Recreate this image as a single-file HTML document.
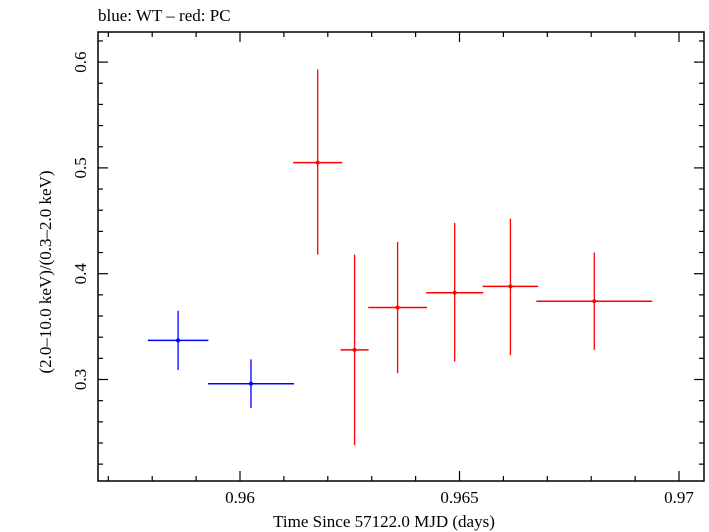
<!DOCTYPE html>
<html><head><meta charset="utf-8"><style>
html,body{margin:0;padding:0;background:#fff;}
svg{display:block;font-family:"Liberation Serif",serif;}
</style></head><body>
<svg id="chart" width="709" height="532" viewBox="0 0 709 532">
<text x="98" y="21" font-size="17">blue: WT – red: PC</text>
<rect x="98" y="32" width="606" height="449" fill="none" stroke="#000" stroke-width="1.5"/>
<g id="ticks"></g>
<g id="marks"></g>
<text x="384" y="527" font-size="17" text-anchor="middle">Time Since 57122.0 MJD (days)</text>
<text transform="translate(51,272) rotate(-90)" font-size="17" text-anchor="middle">(2.0–10.0 keV)/(0.3–2.0 keV)</text>
</svg>
<script>
const blueX = [0.95859, 0.96025];
const blueXErr = [0.00069, 0.00098];
const blueY = [0.337, 0.296];
const blueYLo = [0.309, 0.273];
const blueYHi = [0.365, 0.319];
const redX = [0.96177, 0.96261, 0.96359, 0.96489, 0.96616, 0.96807];
const redXErr = [0.00056, 0.00032, 0.00067, 0.00065, 0.00063, 0.00132];
const redY = [0.505, 0.328, 0.368, 0.382, 0.388, 0.374];
const redYLo = [0.418, 0.238, 0.306, 0.317, 0.323, 0.328];
const redYHi = [0.593, 0.418, 0.430, 0.448, 0.452, 0.420];
const xTickLabels = ["0.96", "0.965", "0.97"];
const yTickLabels = ["0.3", "0.4", "0.5", "0.6"];

const L=98,R=704,T=32,B=481;
const xs = v => 240 + (v-0.96)/0.005*219.5;
const ys = v => 379.5 - (v-0.3)/0.1*105.8;
const NS='http://www.w3.org/2000/svg';
function mk(tag, attrs, parent){const e=document.createElementNS(NS,tag);for(const k in attrs)e.setAttribute(k,attrs[k]);parent.appendChild(e);return e;}
const tg=document.getElementById('ticks'), mg=document.getElementById('marks');
for(let i=-4;i<=11;i++){
  const v=0.96+i*0.001, x=xs(v);
  if(x<=L+1||x>=R-1) continue;
  const major = i%5===0, len = major?10:5;
  const t1=mk('line',{x1:x,y1:B,x2:x,y2:B-len,stroke:'#000','stroke-width':1.2},tg);
  
  
  const t2=mk('line',{x1:x,y1:T,x2:x,y2:T+len,stroke:'#000','stroke-width':1.2},tg);
  
  
}
xTickLabels.forEach(s=>{
  const t=mk('text',{x:xs(parseFloat(s)),y:503,'font-size':17,'text-anchor':'middle'},tg);
  
  
  t.textContent=s;
});
for(let i=-6;i<=17;i++){
  const v=0.3+i*0.02, y=ys(v);
  if(y<=T+1||y>=B-1) continue;
  const major = i%5===0, len = major?10:5;
  const t1=mk('line',{x1:L,y1:y,x2:L+len,y2:y,stroke:'#000','stroke-width':1.2},tg);
  
  
  const t2=mk('line',{x1:R,y1:y,x2:R-len,y2:y,stroke:'#000','stroke-width':1.2},tg);
  
  
}
yTickLabels.forEach(s=>{
  const y=ys(parseFloat(s));
  const t=mk('text',{transform:`translate(86,${y}) rotate(-90)`,'font-size':17,'text-anchor':'middle'},tg);
  
  
  t.textContent=s;
});
function series(X,XE,Y,YL,YH,color,name){
  X.forEach((x,i)=>{
    const g=mk('g',{},mg);
    
    
    mk('line',{x1:xs(x-XE[i]),x2:xs(x+XE[i]),y1:ys(Y[i]),y2:ys(Y[i]),stroke:color,'stroke-width':1.5},g);
    mk('line',{x1:xs(x),x2:xs(x),y1:ys(YL[i]),y2:ys(YH[i]),stroke:color,'stroke-width':1.3},g);
    mk('circle',{cx:xs(x),cy:ys(Y[i]),r:2,fill:color},g);
  });
}
series(blueX,blueXErr,blueY,blueYLo,blueYHi,'#0000ff','wt');
series(redX,redXErr,redY,redYLo,redYHi,'#ff0000','pc');
</script>
</body></html>
